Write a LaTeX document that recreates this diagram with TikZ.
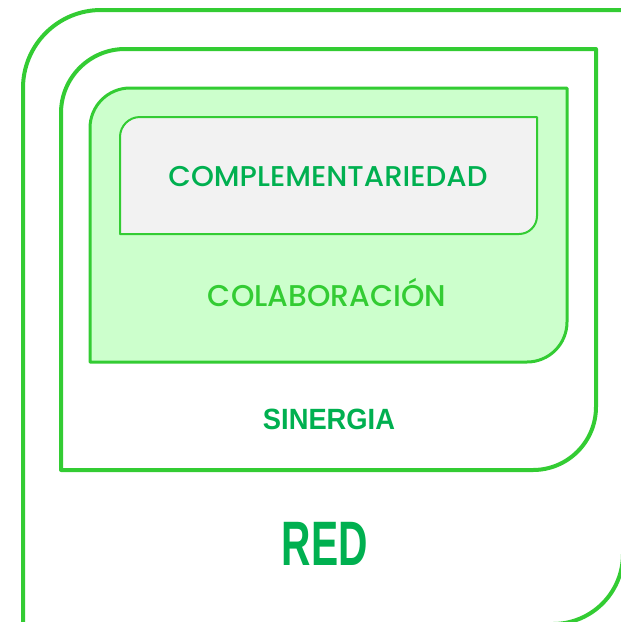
\documentclass[tikz,border=0pt]{standalone}
\usepackage{fontspec}
\newfontfamily\popfont{Poppins Medium}
\newfontfamily\boldsans{Liberation Sans}[UprightFont=*-Bold]
\definecolor{lineg}{HTML}{33CC33}
\definecolor{fillg}{HTML}{CCFFCC}
\definecolor{boxgray}{HTML}{F2F2F2}
\definecolor{textg}{HTML}{00B050}
\tikzset{
  frame/.style={draw=lineg, line join=round},
  lbl/.style={inner sep=0pt, anchor=base}
}
\begin{document}
\begin{tikzpicture}[x=1pt,y=-1pt]
\useasboundingbox (0,0) rectangle (621,622);
% outer shape (RED)
\draw[frame, line width=4pt]
  (23,660) -- (23,88) arc[start angle=180,end angle=270,radius=78]
  -- (623,10) -- (623,554) arc[start angle=0,end angle=90,radius=70]
  -- (23,624);
% second shape (SINERGIA)
\draw[frame, line width=4pt, fill=white]
  (61,470) -- (61,113) arc[start angle=180,end angle=270,radius=64]
  -- (596,49) -- (596,407) arc[start angle=0,end angle=90,radius=63]
  -- cycle;
% third shape (COLABORACION)
\draw[frame, line width=3pt, fill=fillg]
  (90,362) -- (90,128) arc[start angle=180,end angle=270,radius=40]
  -- (567,88) -- (567,322) arc[start angle=0,end angle=90,radius=40]
  -- cycle;
% gray box (COMPLEMENTARIEDAD)
\draw[frame, line width=2pt, fill=boxgray]
  (120,234) -- (120,137) arc[start angle=180,end angle=270,radius=20]
  -- (537,117) -- (537,216) arc[start angle=0,end angle=90,radius=18]
  -- cycle;
\node[lbl, text=textg] (comp) at (328,186)
  {\resizebox{319pt}{\height}{\popfont\fontsize{28.6}{30}\selectfont COMPLEMENTARIEDAD}};
\node[lbl, text=lineg] (colab) at (327,306)
  {\resizebox{238pt}{\height}{\popfont\fontsize{30}{32}\selectfont COLABORACIÓN}};
\node[lbl, text=textg] (sin) at (329,429)
  {\resizebox{132pt}{\height}{\boldsans\fontsize{29.3}{30}\selectfont SINERGIA}};
\node[lbl, text=textg] (red) at (325,565)
  {\resizebox{86pt}{\height}{\boldsans\fontsize{62.8}{64}\selectfont RED}};
\end{tikzpicture}
\end{document}
